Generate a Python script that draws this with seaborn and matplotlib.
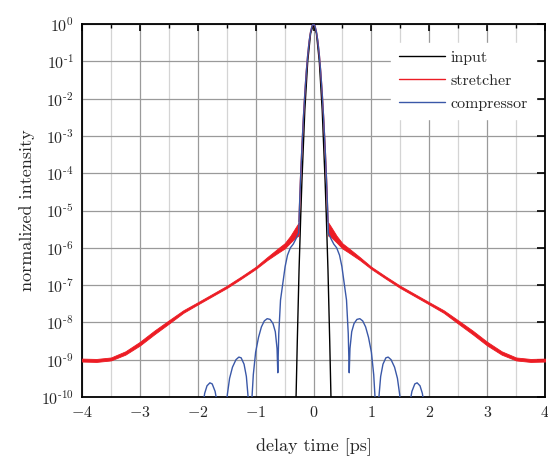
import matplotlib
matplotlib.use("Agg")
import matplotlib.pyplot as plt
import matplotlib.ticker as mticker
import numpy as np
import pandas as pd
import seaborn as sns

# --- data (log10 of normalized intensity), right half; pulses are symmetric in delay ---
input_x = [0.0, 0.05, 0.1, 0.15, 0.2, 0.22, 0.25, 0.28, 0.3, 0.32]
input_log = [0.0, -0.25, -1.0, -2.3, -4.2, -5.1, -6.6, -8.5, -9.9, -11.0]

# stretcher: central peak, then rippled wings (upper / lower ripple envelope)
stretch_peak_x = [0.0, 0.025, 0.05, 0.075, 0.1, 0.125, 0.15, 0.175, 0.2, 0.225, 0.25]
stretch_peak_log = [0.0, -0.05, -0.21, -0.46, -0.83, -1.29, -1.86, -2.53, -3.3, -4.18, -5.3]
wing_x = [0.25, 0.3, 0.4, 0.5, 0.6, 0.8, 1.0, 1.25, 1.5, 1.75, 2.0,
          2.25, 2.5, 2.75, 3.0, 3.25, 3.5, 3.75, 4.0]
wing_upper = [-5.31, -5.43, -5.68, -5.88, -6.0, -6.25, -6.51, -6.77, -7.02, -7.24, -7.46,
              -7.675, -7.945, -8.22, -8.52, -8.775, -8.94, -8.98, -8.97]
wing_lower = [-5.67, -5.71, -5.86, -6.02, -6.12, -6.33, -6.57, -6.83, -7.08, -7.3, -7.52,
              -7.745, -8.035, -8.32, -8.62, -8.865, -9.02, -9.06, -9.05]

compress_x = [0.0, 0.025, 0.05, 0.075, 0.1, 0.125, 0.15, 0.175, 0.2, 0.225, 0.245, 0.256,
              0.3, 0.35, 0.4, 0.45, 0.49, 0.53, 0.57, 0.6, 0.617,
              0.63, 0.66, 0.7, 0.75, 0.8, 0.85, 0.9, 0.95, 1.0, 1.04, 1.07, 1.09,
              1.11, 1.13, 1.16, 1.2, 1.25, 1.29, 1.34, 1.4, 1.45, 1.49, 1.52, 1.55,
              1.63, 1.66, 1.7, 1.75, 1.79, 1.84, 1.88, 1.92, 1.95]
compress_log = [0.0, -0.05, -0.21, -0.46, -0.83, -1.29, -1.86, -2.53, -3.3, -4.18, -5.0, -5.6,
                -5.75, -5.9, -6.0, -6.2, -6.5, -6.95, -7.4, -8.3, -9.35,
                -8.7, -8.25, -8.03, -7.92, -7.9, -7.96, -8.12, -8.4, -8.8, -9.4, -10.2, -11.0,
                -11.0, -10.0, -9.45, -9.12, -8.95, -8.93, -9.0, -9.2, -9.5, -9.95, -10.6, -11.0,
                -11.0, -10.2, -9.85, -9.65, -9.62, -9.7, -9.9, -10.3, -11.0]

x_ticks = [-4, -3, -2, -1, 0, 1, 2, 3, 4]


def mirror(x, v):
    x = np.asarray(x, float)
    v = np.asarray(v, float)
    return np.r_[-x[::-1], x[1:] if x[0] == 0 else x], np.r_[v[::-1], v[1:] if x[0] == 0 else v]


def decade_label(val, pos):
    e = int(round(np.log10(val)))
    if e < 0:
        return r"$10^{\text{-}%d}$" % (-e)
    return r"$10^{%d}$" % e


sns.set_theme(style="white")
plt.rcParams.update({
    "font.family": ["cmr10", "DejaVu Serif"],
    "mathtext.fontset": "cm",
    "axes.formatter.use_mathtext": True,
    "axes.unicode_minus": False,
    "xtick.direction": "in",
    "ytick.direction": "in",
})

fig = plt.figure(figsize=(5.48, 4.62), dpi=100)
ax = fig.add_axes([0.1496, 0.1407, 0.845, 0.8073])

xi, vi = mirror(input_x, input_log)
xp, vp = mirror(stretch_peak_x, stretch_peak_log)
xc, vc = mirror(compress_x, compress_log)
wx = np.asarray(wing_x)
wu = 10.0 ** np.asarray(wing_upper)
wl = 10.0 ** np.asarray(wing_lower)

black = "#000000"
red = "#ec1c24"
blue = "#3a58a8"

sns.lineplot(x=xi, y=10.0 ** vi, color=black, lw=1.0, ax=ax, label="input", sort=False, zorder=3)
sns.lineplot(x=xp, y=10.0 ** vp, color=red, lw=1.0, ax=ax, label="stretcher", sort=False, zorder=3)
for s in (-1, 1):
    ax.fill_between(s * wx, wl, wu, color=red, lw=0.6, zorder=3)
sns.lineplot(x=xc, y=10.0 ** vc, color=blue, lw=1.0, ax=ax, label="compressor", sort=False, zorder=4)

ax.set_yscale("log")
ax.set_xlim(-4, 4)
ax.set_ylim(1e-10, 1)
ax.set_xticks(x_ticks)
ax.xaxis.set_minor_locator(mticker.MultipleLocator(0.5))
ax.yaxis.set_major_locator(mticker.LogLocator(base=10, numticks=20))
ax.yaxis.set_minor_locator(mticker.NullLocator())
ax.yaxis.set_major_formatter(mticker.FuncFormatter(decade_label))

ax.grid(True, which="major", color="#9a9a9a", lw=0.9, zorder=0)
ax.grid(True, which="minor", axis="x", color="#d4d4d4", lw=0.9, zorder=0)
ax.set_axisbelow(True)

ax.tick_params(which="major", length=5, width=1.2, color="black", top=True, right=True,
               labelsize=11.5, pad=6)
ax.tick_params(which="minor", length=3, width=1.0, color="black", top=True, right=False)
ax.tick_params(axis="y", which="major", length=6)
for sp in ax.spines.values():
    sp.set_color("black")
    sp.set_linewidth(1.3)

ax.set_xlabel("delay time [ps]", fontsize=13, labelpad=13)
ax.set_ylabel("normalized intensity", fontsize=13, labelpad=4)

leg = ax.legend(loc="upper right", bbox_to_anchor=(0.981, 0.95), borderaxespad=0,
                frameon=True, fancybox=False, facecolor="white", edgecolor="white",
                framealpha=1, fontsize=11.5, handlelength=2.9, handletextpad=0.35,
                labelspacing=0.55, borderpad=0.5)
leg.set_zorder(10)

fig.savefig("out.png", dpi=100)
